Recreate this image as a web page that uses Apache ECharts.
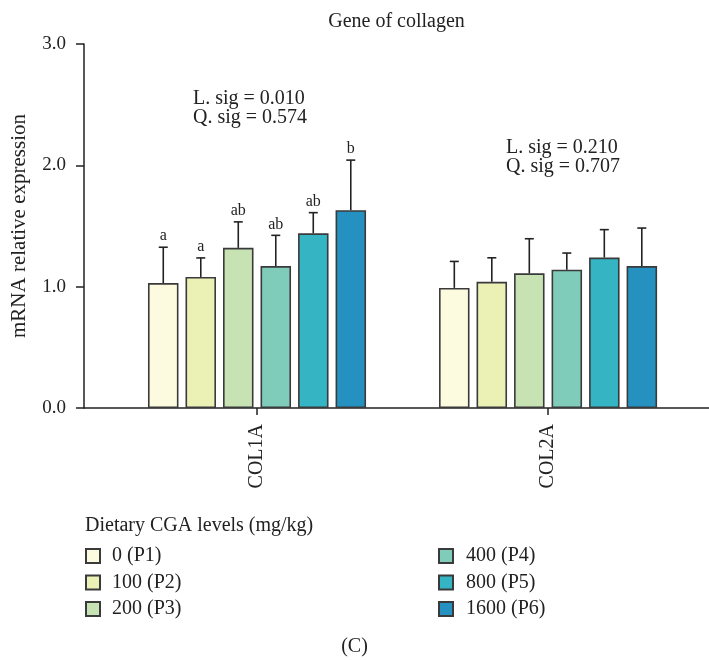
<!DOCTYPE html>
<html>
<head>
<meta charset="utf-8">
<script src="https://cdn.jsdelivr.net/npm/echarts@6/dist/echarts.min.js"></script>
<style>html,body{margin:0;padding:0;background:#fff;}#c{width:709px;height:660px;}</style>
</head>
<body>
<div id="c"></div>
<script>
// ---- data ----
const categories = ['COL1A', 'COL2A'];
const levels = ['0 (P1)', '100 (P2)', '200 (P3)', '400 (P4)', '800 (P5)', '1600 (P6)'];
const col1aMean = [1.03, 1.08, 1.32, 1.17, 1.44, 1.63];
const col1aSD   = [0.295, 0.157, 0.214, 0.253, 0.17, 0.413];
const col1aLetters = ['a', 'a', 'ab', 'ab', 'ab', 'b'];
const col2aMean = [0.99, 1.04, 1.11, 1.14, 1.24, 1.17];
const col2aSD   = [0.218, 0.198, 0.285, 0.137, 0.23, 0.313];
const col2aLetters = ['', '', '', '', '', ''];
const yTicks = [0, 1, 2, 3];
const sigCOL1A = ['L. sig = 0.010', 'Q. sig = 0.574'];
const sigCOL2A = ['L. sig = 0.210', 'Q. sig = 0.707'];

// ---- style ----
const FONT = 'Liberation Serif';
const colors = ['#FCFBE0', '#EBF0B4', '#C7E3B4', '#7FCCBA', '#35B5C4', '#2491C1'];
const BAR_W = 30.5, GAP_PX = 7;
const PITCH = BAR_W + GAP_PX;
const INK = '#222';

const means = [col1aMean, col2aMean];
const sds = [col1aSD, col2aSD];
const letters = [col1aLetters, col2aLetters];

const barSeries = levels.map((lv, s) => ({
  type: 'bar',
  name: lv,
  data: categories.map((c, ci) => [ci + 1, means[ci][s]]),
  barWidth: BAR_W,
  barGap: (GAP_PX / BAR_W * 100).toFixed(1) + '%',
  itemStyle: { color: colors[s], borderColor: '#3a3a3a', borderWidth: 1.6 },
  emphasis: { disabled: true },
  z: 2
}));

const errData = [];
const errLetters = [];
categories.forEach((c, ci) => {
  levels.forEach((lv, s) => {
    errData.push([ci + 1, s, means[ci][s], means[ci][s] + sds[ci][s]]);
    errLetters.push(letters[ci][s]);
  });
});

const errSeries = {
  type: 'custom',
  data: errData,
  encode: { x: 0, y: 3 },
  z: 5,
  silent: true,
  renderItem: function (params, api) {
    const cx = api.value(0), s = api.value(1), m = api.value(2), t = api.value(3);
    const off = (s - (levels.length - 1) / 2) * PITCH;
    const pm = api.coord([cx, m]);
    const pt = api.coord([cx, t]);
    const x = pm[0] + off;
    const st = { stroke: INK, lineWidth: 1.6 };
    const children = [
      { type: 'line', shape: { x1: x, y1: pm[1], x2: x, y2: pt[1] }, style: st },
      { type: 'line', shape: { x1: x - 4.5, y1: pt[1], x2: x + 4.5, y2: pt[1] }, style: st }
    ];
    const lab = errLetters[params.dataIndex];
    if (lab) {
      children.push({ type: 'text', x: x, y: pt[1] - 3,
        style: { text: lab, fill: INK, font: '16px "' + FONT + '"', align: 'center', verticalAlign: 'bottom' } });
    }
    return { type: 'group', children: children };
  }
};

const chart = echarts.init(document.getElementById('c'), null, { renderer: 'canvas' });
chart.setOption({
  animation: false,
  backgroundColor: '#fff',
  textStyle: { fontFamily: FONT, color: INK },
  title: [
    { text: 'Gene of collagen', left: 396.5, top: 12, textAlign: 'center', padding: 0,
      textStyle: { fontFamily: FONT, fontSize: 20, fontWeight: 'normal', color: INK } },
    { text: 'Dietary CGA levels (mg/kg)', left: 85, top: 516, padding: 0,
      textStyle: { fontFamily: FONT, fontSize: 20, fontWeight: 'normal', color: INK } },
    { text: '(C)', left: 354.5, top: 637, textAlign: 'center', padding: 0,
      textStyle: { fontFamily: FONT, fontSize: 20, fontWeight: 'normal', color: INK } }
  ],
  legend: [
    { data: levels.slice(0, 3), orient: 'vertical', left: 85, top: 546, padding: 0,
      itemWidth: 14, itemHeight: 14, itemGap: 6.5, icon: 'rect', selectedMode: false,
      textStyle: { fontFamily: FONT, fontSize: 20, color: INK, lineHeight: 20, padding: [0, 0, 0, 7] } },
    { data: levels.slice(3), orient: 'vertical', left: 438, top: 546, padding: 0,
      itemWidth: 14, itemHeight: 14, itemGap: 6.5, icon: 'rect', selectedMode: false,
      textStyle: { fontFamily: FONT, fontSize: 20, color: INK, lineHeight: 20, padding: [0, 0, 0, 8] } }
  ],
  grid: { left: 84, right: 0, top: 44, bottom: 252, containLabel: false },
  xAxis: {
    type: 'value', min: 0.4055, max: 2.553,
    splitLine: { show: false },
    axisLine: { show: true, lineStyle: { color: INK, width: 1.5 } },
    axisTick: { show: true, customValues: [1, 2], length: 7, lineStyle: { color: INK, width: 1.5 } },
    axisLabel: { customValues: [1, 2], rotate: 90, margin: 16,
      formatter: v => categories[Math.round(v) - 1] || '',
      fontFamily: FONT, fontSize: 20, color: INK }
  },
  yAxis: {
    type: 'value', min: 0, max: 3, interval: 1,
    name: 'mRNA relative expression', nameLocation: 'middle', nameGap: 54, nameRotate: 90,
    nameTextStyle: { fontFamily: FONT, fontSize: 21, color: INK },
    splitLine: { show: false },
    axisLine: { show: true, lineStyle: { color: INK, width: 1.5 } },
    axisTick: { show: true, length: 8, lineStyle: { color: INK, width: 1.5 } },
    axisLabel: { margin: 18, fontFamily: FONT, fontSize: 19, color: INK,
      formatter: v => yTicks.indexOf(v) >= 0 ? v.toFixed(1) : '' }
  },
  graphic: [
    { type: 'text', left: 193, top: 89, silent: true,
      style: { text: sigCOL1A.join('\n'), font: '20px "' + FONT + '"', fill: INK, lineHeight: 19 } },
    { type: 'text', left: 506, top: 138, silent: true,
      style: { text: sigCOL2A.join('\n'), font: '20px "' + FONT + '"', fill: INK, lineHeight: 19 } }
  ],
  series: barSeries.concat([errSeries])
});
</script>
</body>
</html>
